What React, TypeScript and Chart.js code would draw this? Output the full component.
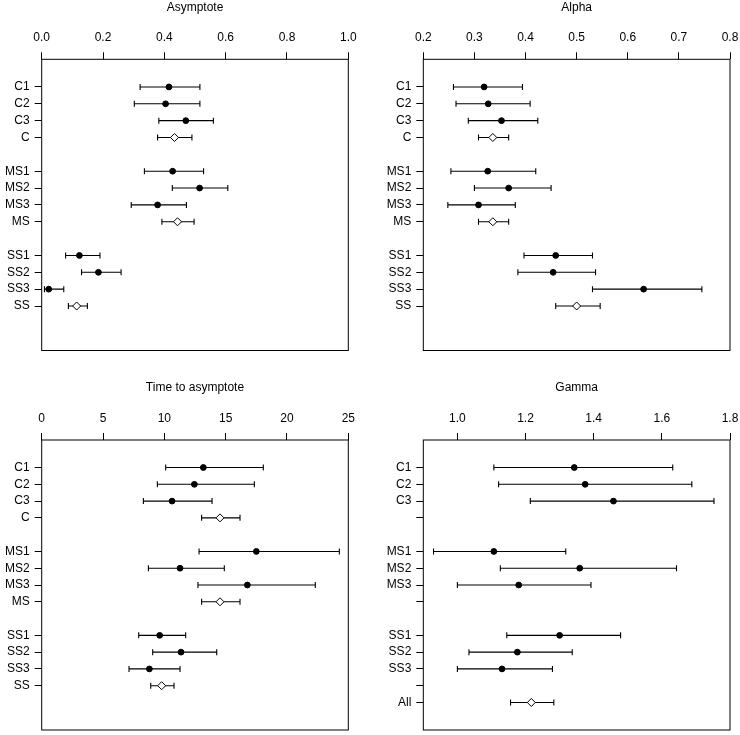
import React, { useEffect, useRef } from 'react';
import { Chart, registerables } from 'chart.js';

Chart.register(...registerables);

// ---------------- DATA ----------------
const rowLabels = ['C1', 'C2', 'C3', 'C', 'MS1', 'MS2', 'MS3', 'MS', 'SS1', 'SS2', 'SS3', 'SS'];
const rowPositions = [1, 2, 3, 4, 6, 7, 8, 9, 11, 12, 13, 14];

const gammaLabels = ['C1', 'C2', 'C3', '', 'MS1', 'MS2', 'MS3', '', 'SS1', 'SS2', 'SS3', '', 'All'];
const gammaPositions = [1, 2, 3, 4, 6, 7, 8, 9, 11, 12, 13, 14, 15];

const asymTicks = [0, 0.2, 0.4, 0.6, 0.8, 1.0];
const asymEst = [0.415, 0.404, 0.470, 0.433, 0.427, 0.515, 0.378, 0.443, 0.123, 0.185, 0.023, 0.114];
const asymLo = [0.321, 0.302, 0.382, 0.378, 0.335, 0.426, 0.292, 0.392, 0.078, 0.130, 0.009, 0.087];
const asymHi = [0.516, 0.516, 0.560, 0.490, 0.528, 0.607, 0.472, 0.497, 0.190, 0.259, 0.072, 0.149];

const alphaTicks = [0.2, 0.3, 0.4, 0.5, 0.6, 0.7, 0.8];
const alphaEst = [0.319, 0.327, 0.353, 0.336, 0.326, 0.367, 0.308, 0.336, 0.459, 0.454, 0.631, 0.500];
const alphaLo = [0.259, 0.264, 0.288, 0.308, 0.254, 0.300, 0.248, 0.308, 0.397, 0.385, 0.531, 0.459];
const alphaHi = [0.394, 0.409, 0.424, 0.367, 0.420, 0.450, 0.380, 0.367, 0.531, 0.537, 0.745, 0.546];

const timeTicks = [0, 5, 10, 15, 20, 25];
const timeEst = [13.18, 12.45, 10.63, 14.54, 17.50, 11.28, 16.77, 14.54, 9.62, 11.36, 8.78, 9.78];
const timeLo = [10.11, 9.43, 8.29, 13.04, 12.83, 8.70, 12.74, 13.04, 7.91, 9.05, 7.12, 8.89];
const timeHi = [18.07, 17.34, 13.89, 16.17, 24.27, 14.89, 22.31, 16.17, 11.74, 14.27, 11.28, 10.79];

const gammaTicks = [1.0, 1.2, 1.4, 1.6, 1.8];
const gammaEst = [1.343, 1.375, 1.458, null, 1.107, 1.359, 1.180, null, 1.300, 1.176, 1.131, null, 1.217];
const gammaLo = [1.107, 1.121, 1.214, null, 0.930, 1.126, 1.000, null, 1.145, 1.034, 1.000, null, 1.156];
const gammaHi = [1.632, 1.688, 1.753, null, 1.318, 1.643, 1.392, null, 1.479, 1.337, 1.279, null, 1.283];

// ---------------- PANELS ----------------
type Spec = {
  title: string;
  xMin: number;
  xMax: number;
  xTicks: number[];
  decimals: number;
  labels: string[];
  positions: number[];
  est: (number | null)[];
  lo: (number | null)[];
  hi: (number | null)[];
};

const specs: Spec[] = [
  { title: 'Asymptote', xMin: 0, xMax: 1, xTicks: asymTicks, decimals: 1, labels: rowLabels, positions: rowPositions, est: asymEst, lo: asymLo, hi: asymHi },
  { title: 'Alpha', xMin: 0.2, xMax: 0.8, xTicks: alphaTicks, decimals: 1, labels: rowLabels, positions: rowPositions, est: alphaEst, lo: alphaLo, hi: alphaHi },
  { title: 'Time to asymptote', xMin: 0, xMax: 25, xTicks: timeTicks, decimals: 0, labels: rowLabels, positions: rowPositions, est: timeEst, lo: timeLo, hi: timeHi },
  { title: 'Gamma', xMin: 0.9, xMax: 1.8, xTicks: gammaTicks, decimals: 1, labels: gammaLabels, positions: gammaPositions, est: gammaEst, lo: gammaLo, hi: gammaHi },
];

type Layout = { x: number; y: number; w: number; h: number; yW: number; padR: number; padT: number; xH: number; padB: number };

const layouts: Layout[] = [
  { x: 0, y: 0, w: 370, h: 367, yW: 41.7, padR: 21.7, padT: 0.5, xH: 44.4, padB: 16.5 },
  { x: 370, y: 0, w: 370, h: 367, yW: 53.3, padR: 10, padT: 0.5, xH: 44.4, padB: 16.5 },
  { x: 0, y: 367, w: 370, h: 368, yW: 41.7, padR: 21.7, padT: 13.8, xH: 44.8, padB: 2.7 },
  { x: 370, y: 367, w: 370, h: 368, yW: 53.3, padR: 10, padT: 13.8, xH: 44.8, padB: 2.7 },
];

const FONT = "'Liberation Sans', Arial, Helvetica, sans-serif";
Chart.defaults.font.family = FONT;
Chart.defaults.color = '#000';

function Panel({ spec, layout }: { spec: Spec; layout: Layout }) {
  const ref = useRef<HTMLCanvasElement>(null);

  useEffect(() => {
    const canvas = ref.current;
    if (!canvas) return;

    const points: { x: number; y: number; pooled: boolean }[] = [];
    spec.est.forEach((v, i) => {
      if (v == null) return;
      points.push({ x: v, y: spec.positions[i], pooled: !/\d$/.test(spec.labels[i]) });
    });

    const errorBars = {
      id: 'errorBars',
      beforeDatasetsDraw(chart: any) {
        const { ctx } = chart;
        const xs = chart.scales.x;
        const ys = chart.scales.y;
        ctx.save();
        ctx.strokeStyle = '#000';
        ctx.lineWidth = 1.1;
        spec.lo.forEach((lo, i) => {
          const hi = spec.hi[i];
          if (lo == null || hi == null) return;
          const py = ys.getPixelForValue(spec.positions[i]);
          const x1 = xs.getPixelForValue(lo);
          const x2 = xs.getPixelForValue(hi);
          ctx.beginPath();
          ctx.moveTo(x1, py);
          ctx.lineTo(x2, py);
          ctx.moveTo(x1, py - 3);
          ctx.lineTo(x1, py + 3);
          ctx.moveTo(x2, py - 3);
          ctx.lineTo(x2, py + 3);
          ctx.stroke();
        });
        ctx.restore();
      },
      afterDraw(chart: any) {
        const { ctx, chartArea } = chart;
        ctx.save();
        ctx.strokeStyle = '#000';
        ctx.lineWidth = 1;
        ctx.strokeRect(chartArea.left, chartArea.top, chartArea.right - chartArea.left, chartArea.bottom - chartArea.top);
        ctx.restore();
      },
    };

    const tickFont = { family: FONT, size: 12 };

    const chart = new Chart(canvas, {
      type: 'scatter',
      data: {
        datasets: [
          {
            data: points.map((p) => ({ x: p.x, y: p.y })),
            pointStyle: points.map((p) => (p.pooled ? 'rectRot' : 'circle')) as any,
            pointRadius: points.map((p) => (p.pooled ? 4 : 2.9)),
            pointBackgroundColor: points.map((p) => (p.pooled ? '#fff' : '#000')),
            pointBorderColor: '#000',
            pointBorderWidth: 1,
            showLine: false,
          } as any,
        ],
      },
      options: {
        animation: false,
        responsive: false,
        devicePixelRatio: 1,
        events: [],
        layout: { padding: { left: 0, right: layout.padR, top: layout.padT, bottom: layout.padB } },
        plugins: {
          legend: { display: false },
          tooltip: { enabled: false },
          title: {
            display: true,
            text: spec.title,
            fullSize: false,
            color: '#000',
            font: { family: FONT, size: 12, weight: 'normal' as any, lineHeight: 1.2 },
            padding: 0,
          },
        },
        scales: {
          x: {
            type: 'linear',
            position: 'top',
            min: spec.xMin,
            max: spec.xMax,
            afterBuildTicks: (s: any) => {
              s.ticks = spec.xTicks.map((v) => ({ value: v }));
            },
            afterFit: (s: any) => {
              s.height = layout.xH;
              s.paddingLeft = 0;
              s.paddingRight = 0;
            },
            ticks: {
              callback: (v: any) => Number(v).toFixed(spec.decimals),
              font: tickFont,
              color: '#000',
              padding: 7,
              maxRotation: 0,
              autoSkip: false,
            },
            grid: { drawOnChartArea: false, drawTicks: true, tickLength: 7, color: '#000', lineWidth: 1 },
            border: { display: false },
          },
          y: {
            type: 'linear',
            position: 'left',
            min: -0.64,
            max: 16.64,
            reverse: true,
            afterBuildTicks: (s: any) => {
              s.ticks = spec.positions.map((v) => ({ value: v }));
            },
            afterFit: (s: any) => {
              s.width = layout.yW;
              s.paddingTop = 0;
              s.paddingBottom = 0;
            },
            ticks: {
              callback: (v: any) => {
                const i = spec.positions.indexOf(Number(v));
                return i >= 0 ? spec.labels[i] : '';
              },
              font: tickFont,
              color: '#000',
              padding: 5,
              autoSkip: false,
            },
            grid: { drawOnChartArea: false, drawTicks: true, tickLength: 7, color: '#000', lineWidth: 1 },
            border: { display: false },
          },
        },
      } as any,
      plugins: [errorBars],
    });

    return () => chart.destroy();
  }, [spec, layout]);

  return (
    <canvas
      ref={ref}
      width={layout.w}
      height={layout.h}
      style={{ position: 'absolute', left: layout.x, top: layout.y, width: layout.w, height: layout.h }}
    />
  );
}

export default function App() {
  return (
    <div style={{ position: 'absolute', left: 0, top: 0, width: 740, height: 735, background: '#fff' }}>
      {specs.map((s, i) => (
        <Panel key={s.title} spec={s} layout={layouts[i]} />
      ))}
    </div>
  );
}
